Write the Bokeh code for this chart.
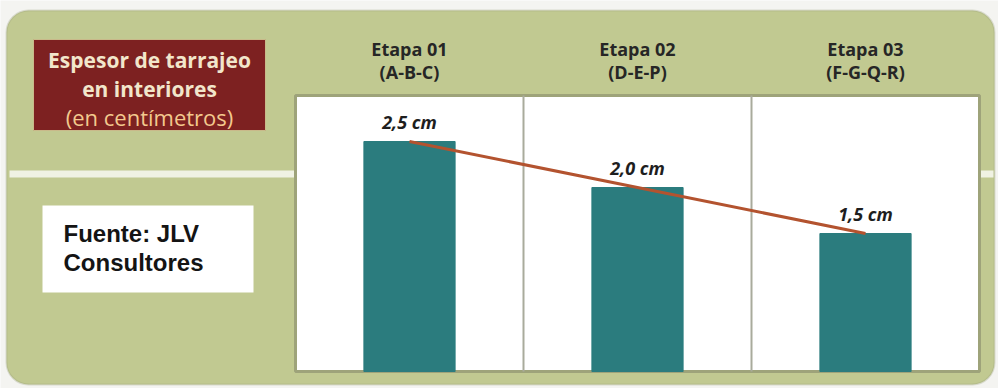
from bokeh.plotting import figure
from bokeh.models import Range1d, BoxAnnotation
from bokeh.core.properties import value
from bokeh.embed import file_html
from bokeh.resources import INLINE

# ---- data ----
categories = ["Etapa 01", "Etapa 02", "Etapa 03"]
groups = ["(A-B-C)", "(D-E-P)", "(F-G-Q-R)"]
values = [2.5, 2.0, 1.5]
value_labels = ["2,5 cm", "2,0 cm", "1,5 cm"]
title_lines = ["Espesor de tarrajeo", "en interiores", "(en centímetros)"]
source_lines = ["Fuente: JLV", "Consultores"]

W, H = 998, 388
FL, FR, FT, FB = 295, 979, 95, 371   # chart area edges on canvas (px)
YMAX = 3.0                           # value axis maximum

OLIVE = "#c1c991"
TEAL = "#2b7c7e"
RED = "#7d2121"

n = len(categories)
px_per_cat = (FR - FL) / n
px_per_val = (FB - FT) / YMAX

# whole-canvas frame; layout decorations use canvas-pixel ranges
p = figure(width=W, height=H, x_range=Range1d(0, W), y_range=Range1d(0, H),
           x_axis_type=None, y_axis_type=None,
           output_backend="svg", toolbar_location=None, min_border=0)
p.outline_line_color = None
p.grid.visible = False
p.background_fill_color = "#f4f4f1"
p.border_fill_color = "#f4f4f1"

# chart scales: categories and values mapped onto the chart area
p.extra_x_ranges = {"cat": Range1d(-FL / px_per_cat, n + (W - FR) / px_per_cat)}
p.extra_y_ranges = {"val": Range1d(-(H - FB) / px_per_val, YMAX + FT / px_per_val)}

def cy(y):
    return H - y

# olive rounded panel
p.add_layout(BoxAnnotation(left=6, right=994, top=cy(10), bottom=cy(384),
                           fill_color=OLIVE, fill_alpha=1, line_color="#98a07c",
                           line_width=2, border_radius=22, level="underlay"))
# light streak
p.add_layout(BoxAnnotation(left=9, right=993, top=cy(170), bottom=cy(177),
                           fill_color="white", fill_alpha=0.75, line_color=None,
                           level="underlay"))

xs = [i + 0.5 for i in range(n)]

# white chart area with outline
p.quad(left=0, right=n, bottom=0, top=YMAX, fill_color="white",
       line_color="#9ea37a", line_width=3, x_range_name="cat", y_range_name="val")
# column dividers
p.segment(x0=list(range(1, n)), x1=list(range(1, n)), y0=0, y1=YMAX,
          line_color="#a9ab9c", line_width=2, x_range_name="cat", y_range_name="val")

# bars, trend line, value labels
p.vbar(x=xs, top=values, width=0.4, color=TEAL, x_range_name="cat", y_range_name="val")
p.line(x=xs, y=values, line_color="#b3532f", line_width=3,
       x_range_name="cat", y_range_name="val")
p.text(x=xs, y=values, text=value_labels, text_align="center",
       text_baseline="bottom", y_offset=-8, text_font=value("Open Sans"),
       text_font_style="bold italic", text_font_size="18px", text_color="#1e1e1e",
       x_range_name="cat", y_range_name="val")

# column headers above chart area
p.text(x=xs, y=[YMAX] * n, text=categories, text_align="center",
       text_baseline="middle", y_offset=-47, text_font=value("Open Sans"),
       text_font_style="bold", text_font_size="18px", text_color="#262626",
       x_range_name="cat", y_range_name="val")
p.text(x=xs, y=[YMAX] * n, text=groups, text_align="center",
       text_baseline="middle", y_offset=-24, text_font=value("Open Sans"),
       text_font_style="bold", text_font_size="18px", text_color="#262626",
       x_range_name="cat", y_range_name="val")

# title box
p.quad(left=33, right=265, top=cy(39), bottom=cy(130), fill_color=RED,
       line_color="#c9b98a", line_width=1)
p.text(x=[149, 149], y=[cy(59), cy(88)], text=title_lines[:2], text_align="center",
       text_baseline="middle", text_font=value("Open Sans"), text_font_style="bold",
       text_font_size="21px", text_color="#f2e6cb")
p.text(x=[149], y=[cy(116)], text=title_lines[2:], text_align="center",
       text_baseline="middle", text_font=value("Open Sans"), text_font_style="normal",
       text_font_size="22px", text_color="#f3c98e")

# source box
p.quad(left=42, right=253, top=cy(205), bottom=cy(292), fill_color="white",
       line_color=None)
p.text(x=[63, 63], y=[cy(233), cy(262)], text=source_lines, text_align="left",
       text_baseline="middle", text_font=value("Liberation Sans"),
       text_font_style="bold", text_font_size="24px", text_color="#141414")

open("out.html", "w").write(file_html(p, INLINE))
